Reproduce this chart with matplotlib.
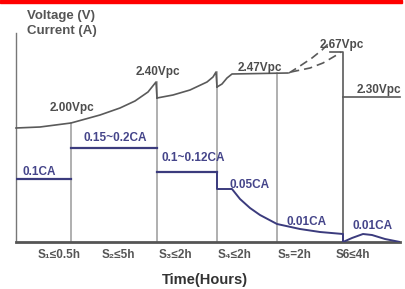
import matplotlib
matplotlib.use("Agg")
import matplotlib.pyplot as plt
from matplotlib.patches import Rectangle

plt.rcParams['font.family'] = ['Liberation Sans', 'DejaVu Sans']

# Datos del esquema (unidades del dibujo)
limites = [0, 55, 141, 201, 261, 327, 384]
alto_divisor = [119, 160, 170, 169]

volt1_x = [0, 24, 55, 84, 104, 119, 132, 140, 141]
volt1_y = [114, 115, 119, 127, 134, 141, 150, 160, 144]
volt2_x = [141, 157, 174, 191, 197, 200, 201]
volt2_y = [144, 147, 152, 160, 165, 170, 155]
volt3_x = [201, 206, 211, 216, 272]
volt3_y = [155, 158, 164, 168, 169]
dash1_x = [273, 284, 296, 306, 312]
dash1_y = [169, 176, 184, 192, 198]
dash2_x = [275, 294, 307, 319, 325]
dash2_y = [170, 174, 179, 186, 190]
volt4_x = [314, 327, 327]
volt4_y = [190, 190, 0]
volt5_x = [327, 384]
volt5_y = [145, 145]

corr_tramos = [(0, 55, 63), (55, 141, 94), (141, 201, 70)]
corr_x = [201, 201, 216, 224, 234, 244, 261, 284, 304, 327, 327]
corr_y = [70, 53, 53, 43, 34, 27, 18, 13, 10, 8, 0]
bump_x = [327, 336, 347, 356, 369, 384]
bump_y = [0, 4, 8, 7, 3, 0]

etiquetas_v = [("2.00Vpc", 56, 134), ("2.40Vpc", 142, 170), ("2.47Vpc", 244, 174),
               ("2.67Vpc", 326, 197), ("2.30Vpc", 363, 152)]
etiquetas_c = [("0.1CA", 23, 70), ("0.15~0.2CA", 99, 104), ("0.1~0.12CA", 177, 84),
               ("0.05CA", 234, 57), ("0.01CA", 291, 20), ("0.01CA", 357, 16)]
ticks_x = [43, 102, 159, 219, 279, 337]
ticks_lbl = ["S₁≤0.5h", "S₂≤5h", "S₃≤2h", "S₄≤2h", "S₅=2h", "S6≤4h"]

gris_v = '#5a5a5a'
azul = '#3b3b7d'

fig = plt.figure(figsize=(4.05, 2.89), dpi=100)
fig.patches.append(Rectangle((0, 286 / 289), 402 / 405, 3 / 289, color='#ff0000',
                             transform=fig.transFigure, zorder=0))
ax = fig.add_axes([16 / 405, 47 / 289, 384 / 405, 209 / 289])
ax.set_xlim(0, 384)
ax.set_ylim(0, 209)
ax.patch.set_alpha(0)
for s in ['top', 'right']:
    ax.spines[s].set_visible(False)
ax.spines['left'].set_color('#777777')
ax.spines['left'].set_linewidth(1.0)
ax.spines['bottom'].set_color('#555555')
ax.spines['bottom'].set_linewidth(2.0)
ax.set_yticks([])
ax.set_xticks(ticks_x)
ax.set_xticklabels(ticks_lbl, fontsize=8.5, fontweight='bold', color='#555555')
ax.tick_params(axis='x', length=0, pad=5)

# Divisores
for xd, h in zip(limites[1:5], alto_divisor):
    ax.plot([xd, xd], [0, h], color='#9a9a9a', lw=1.1, zorder=1)

# Voltaje
for xs, ys in [(volt1_x, volt1_y), (volt2_x, volt2_y), (volt3_x, volt3_y),
               (volt4_x, volt4_y), (volt5_x, volt5_y)]:
    ax.plot(xs, ys, color=gris_v, lw=1.2, zorder=3, clip_on=False)
ax.plot(dash1_x, dash1_y, color=gris_v, lw=1.2, ls=(0, (5, 3)), zorder=3)
ax.plot(dash2_x, dash2_y, color=gris_v, lw=1.2, ls=(0, (5, 3)), zorder=3)

# Corriente
for x0, x1, yv in corr_tramos:
    ax.plot([x0, x1], [yv, yv], color=azul, lw=1.6, zorder=4)
ax.plot(corr_x, corr_y, color=azul, lw=1.4, zorder=4)
ax.plot(bump_x, bump_y, color=azul, lw=1.4, zorder=4)

for txt, xt, yt in etiquetas_v:
    ax.text(xt, yt, txt, fontsize=8.5, fontweight='bold', color='#4d4d4d',
            ha='center', va='center', clip_on=False)
for txt, xt, yt in etiquetas_c:
    ax.text(xt, yt, txt, fontsize=8.5, fontweight='bold', color='#45458a',
            ha='center', va='center', clip_on=False)

ax.text(11, 226, "Voltage (V)", fontsize=9.5, fontweight='bold', color='#555555',
        ha='left', va='center', clip_on=False)
ax.text(11, 211, "Current (A)", fontsize=9.5, fontweight='bold', color='#555555',
        ha='left', va='center', clip_on=False)
ax.text(189, -38, "Time(Hours)", fontsize=10.5, fontweight='bold', color='#333333',
        ha='center', va='center', clip_on=False)

fig.savefig("out.png", dpi=100)
